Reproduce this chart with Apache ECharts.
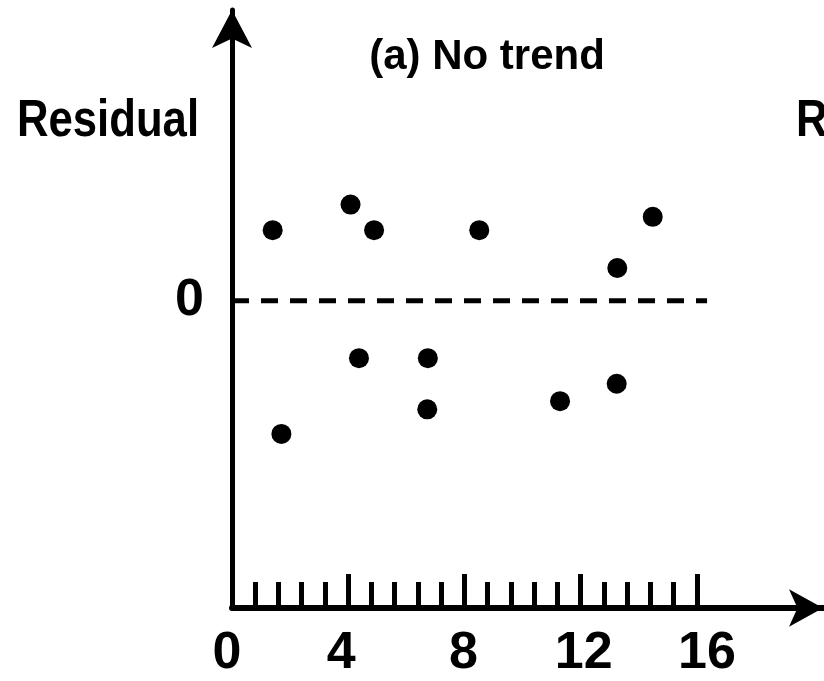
<!DOCTYPE html>
<html>
<head>
<meta charset="utf-8">
<script src="https://cdn.jsdelivr.net/npm/echarts@6/dist/echarts.min.js"></script>
<style>
  html, body { margin: 0; padding: 0; background: #ffffff; }
  #chart { width: 824px; height: 681px; }
</style>
</head>
<body>
<div id="chart"></div>
<script>
// Residuals against observation order
const orderX    = [1.40, 1.70, 4.08, 4.37, 4.89, 6.72, 6.74, 8.51, 11.29, 13.24, 13.26, 14.48];
const residualY = [0.69, -1.30, 0.94, -0.56, 0.69, -1.06, -0.56, 0.69, -0.98, -0.81, 0.32, 0.82];

// Tick marks and labels along the horizontal axis
const xLabelValues = [0, 4, 8, 12, 16];
const majorTicks   = [4, 8, 12, 16];
const minorTicks   = [0.8, 1.6, 2.4, 3.2, 4.8, 5.6, 6.4, 7.2, 8.8, 9.6, 10.4, 11.2,
                      12.8, 13.6, 14.4, 15.2];
const yLabelValues = [0];

// Zero reference line span
const zeroLineX = [0, 16.35];

const titleText  = '(a) No trend';
const yAxisTitle = 'Residual';

const points = orderX.map((x, i) => [x, residualY[i]]);
const zeroLine = zeroLineX.map(x => [x, 0]);

const FONT = '"Liberation Sans", Arial, sans-serif';
const labelFont = { color: '#000', fontFamily: FONT, fontWeight: 'bold', fontSize: 52, lineHeight: 52 };

// small per-label nudges of the bottom tick labels
const xLabelRich = {
  l0:  Object.assign({ padding: [0, 10, 0, 0] }, labelFont),
  l4:  Object.assign({ padding: [0, 14, 0, 0] }, labelFont),
  l8:  Object.assign({ padding: [0, 2, 0, 0] }, labelFont),
  l12: Object.assign({ padding: [0, 0, 0, 6] }, labelFont),
  l16: Object.assign({ padding: [0, 0, 0, 20] }, labelFont)
};

const chart = echarts.init(document.getElementById('chart'), null, { renderer: 'canvas' });

chart.setOption({
  backgroundColor: '#ffffff',
  animation: false,
  grid: { left: 232, right: 1, top: 10, bottom: 73, containLabel: false },
  xAxis: [
    {
      type: 'value', min: 0, max: 20.34, position: 'bottom',
      axisLine: { show: true, onZero: false, symbol: ['none', 'arrow'], symbolSize: [28, 34],
                  lineStyle: { color: '#000', width: 6 } },
      axisTick: { show: true, inside: true, length: 34, customValues: majorTicks,
                  lineStyle: { color: '#000', width: 5 } },
      axisLabel: { show: true, customValues: xLabelValues, margin: 20,
                   formatter: v => '{l' + v + '|' + v + '}', rich: xLabelRich,
                   color: '#000', fontFamily: FONT, fontWeight: 'bold', fontSize: 52, lineHeight: 52 },
      splitLine: { show: false }
    },
    {
      type: 'value', min: 0, max: 20.34, position: 'bottom', gridIndex: 0,
      axisLine: { show: false, onZero: false },
      axisTick: { show: true, inside: true, length: 26, customValues: minorTicks,
                  lineStyle: { color: '#000', width: 5 } },
      axisLabel: { show: false },
      splitLine: { show: false }
    }
  ],
  yAxis: {
    type: 'value', min: -3, max: 2.84,
    axisLine: { show: true, onZero: false, symbol: ['none', 'arrow'], symbolSize: [30, 38],
                lineStyle: { color: '#000', width: 5 } },
    axisTick: { show: false },
    axisLabel: Object.assign({ show: true, customValues: yLabelValues, margin: 28,
                               padding: [10, 0, 0, 0] }, labelFont),
    splitLine: { show: false }
  },
  graphic: [
    { type: 'text', x: 487, y: 57,
      style: { text: titleText, fill: '#000', align: 'center', verticalAlign: 'middle',
               font: 'bold 42px ' + FONT } },
    { type: 'text', x: 108, y: 122, scaleX: 0.84, originX: 0,
      style: { text: yAxisTitle, fill: '#000', align: 'center', verticalAlign: 'middle',
               font: 'bold 52px ' + FONT } },
    { type: 'text', x: 796, y: 122, scaleX: 0.84, originX: 0,
      style: { text: yAxisTitle, fill: '#000', align: 'left', verticalAlign: 'middle',
               font: 'bold 52px ' + FONT } }
  ],
  series: [
    {
      type: 'line', xAxisIndex: 0, data: zeroLine, symbol: 'none', silent: true,
      lineStyle: { color: '#000', width: 5, type: [17, 12] }, z: 1
    },
    {
      type: 'scatter', xAxisIndex: 0, data: points, symbol: 'circle', symbolSize: 20,
      itemStyle: { color: '#000', opacity: 1 }, z: 3
    }
  ]
});
</script>
</body>
</html>
